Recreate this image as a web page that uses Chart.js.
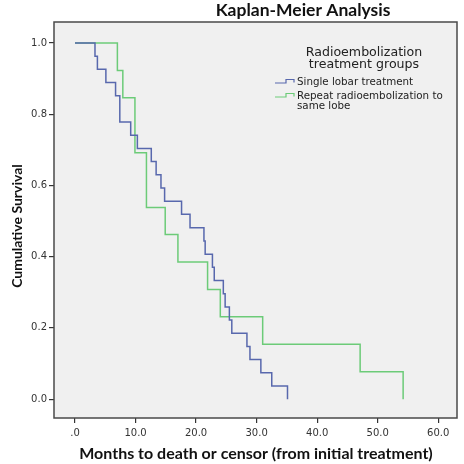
<!DOCTYPE html>
<html>
<head>
<meta charset="utf-8">
<script src="https://cdn.jsdelivr.net/npm/chart.js@4"></script>
<style>
  body { margin: 0; background: #fff; }
  #wrap { width: 464px; height: 464px; }
</style>
</head>
<body>
<div id="wrap"><canvas id="kmChart" width="464" height="464"></canvas></div>
<script>
// Kaplan-Meier curves (months, cumulative survival)
const singleTimes = [0, 3.3, 3.7, 5.1, 6.7, 7.4, 9.2, 10.3, 12.6, 13.4, 14.2, 14.8, 17.6, 19.0,
                     21.3, 21.5, 22.7, 23.0, 24.5, 24.8, 25.5, 25.9, 28.4, 28.9, 30.7, 32.5, 35.1];
const singleSurv = [1.0, 0.963, 0.926, 0.889, 0.852, 0.778, 0.741, 0.704, 0.667, 0.630, 0.593, 0.556, 0.519, 0.481,
                    0.444, 0.407, 0.370, 0.333, 0.296, 0.259, 0.222, 0.185, 0.148, 0.111, 0.074, 0.037, 0.0];

const repeatTimes = [0, 7.0, 7.9, 9.9, 11.8, 14.9, 17.0, 21.9, 24.0, 31.0, 47.1, 54.2];
const repeatSurv = [1.0, 0.923, 0.846, 0.692, 0.538, 0.462, 0.385, 0.308, 0.231, 0.154, 0.077, 0.0];

const seriesNames = ['Single lobar treatment', 'Repeat radioembolization to same lobe'];
const xTickValues = [0, 10, 20, 30, 40, 50, 60];
const yTickValues = [0, 0.2, 0.4, 0.6, 0.8, 1.0];

const chartTitle = 'Kaplan-Meier Analysis';
const xTitle = 'Months to death or censor (from initial treatment)';
const yTitle = 'Cumulative Survival';
const legendTitle = ['Radioembolization', 'treatment groups'];

const blue = '#5868ad';
const green = '#6ccb78';

function toPoints(times, surv) {
    return times.map((t, i) => ({ x: t, y: surv[i] }));
}

// plot background, frame, title and the SPSS style legend
const decorations = {
    id: 'decorations',
    beforeDatasetsDraw(chart) {
        const { ctx, chartArea: a } = chart;
        ctx.save();
        ctx.fillStyle = '#f0f0f0';
        ctx.fillRect(a.left, a.top, a.right - a.left, a.bottom - a.top);
        ctx.restore();
    },
    afterDraw(chart) {
        const { ctx, chartArea: a } = chart;
        ctx.save();
        ctx.strokeStyle = '#4a4a4a';
        ctx.lineWidth = 1.5;
        ctx.strokeRect(a.left, a.top, a.right - a.left, a.bottom - a.top);

        ctx.fillStyle = '#111';
        ctx.textAlign = 'center';
        ctx.textBaseline = 'alphabetic';
        ctx.font = 'bold 17.5px Lato';
        ctx.fillText(chartTitle, 303, 16);

        ctx.font = 'bold 16px Lato';
        ctx.fillText(xTitle, 256, 459);

        ctx.save();
        ctx.font = 'bold 14px Lato';
        ctx.translate(22, 226);
        ctx.rotate(-Math.PI / 2);
        ctx.fillText(yTitle, 0, 0);
        ctx.restore();

        // legend
        ctx.fillStyle = '#222';
        ctx.font = '12.6px "DejaVu Sans"';
        ctx.fillText(legendTitle[0], 364, 56);
        ctx.fillText(legendTitle[1], 364, 68);

        ctx.textAlign = 'left';
        ctx.font = '10.3px "DejaVu Sans"';
        const items = [
            { color: blue, y: 83, lines: [seriesNames[0]] },
            { color: green, y: 97, lines: ['Repeat radioembolization to', 'same lobe'] }
        ];
        items.forEach(it => {
            ctx.strokeStyle = it.color;
            ctx.lineWidth = 1.2;
            ctx.beginPath();
            ctx.moveTo(275, it.y);
            ctx.lineTo(286, it.y);
            ctx.lineTo(286, it.y - 3.5);
            ctx.lineTo(294, it.y - 3.5);
            ctx.lineTo(294, it.y - 0.5);
            ctx.stroke();
            it.lines.forEach((ln, k) => ctx.fillText(ln, 297, it.y + 2 + k * 10));
        });
        ctx.restore();
    }
};

const ctx = document.getElementById('kmChart').getContext('2d');
new Chart(ctx, {
    type: 'line',
    data: {
        datasets: [
            {
                label: seriesNames[0],
                data: toPoints(singleTimes, singleSurv),
                borderColor: blue,
                borderWidth: 1.5,
                stepped: true,
                pointRadius: 0,
                fill: false
            },
            {
                label: seriesNames[1],
                data: toPoints(repeatTimes, repeatSurv),
                borderColor: green,
                borderWidth: 1.5,
                stepped: true,
                pointRadius: 0,
                fill: false
            }
        ]
    },
    options: {
        responsive: false,
        animation: false,
        layout: { padding: { top: 22, right: 7, left: 0, bottom: 0 } },
        plugins: {
            legend: { display: false },
            tooltip: { enabled: false }
        },
        scales: {
            x: {
                type: 'linear',
                min: -3.47,
                max: 63.1,
                afterBuildTicks: scale => { scale.ticks = xTickValues.map(v => ({ value: v })); },
                afterFit: scale => { scale.height = 46; },
                border: { display: false },
                grid: { drawOnChartArea: false, drawTicks: true, tickLength: 5, tickColor: '#333', lineWidth: 1.2 },
                ticks: {
                    padding: 4,
                    color: '#333',
                    maxRotation: 0,
                    font: { family: 'DejaVu Sans', size: 10 },
                    callback: v => v === 0 ? '.0' : v.toFixed(1)
                }
            },
            y: {
                type: 'linear',
                min: -0.053,
                max: 1.059,
                afterBuildTicks: scale => { scale.ticks = yTickValues.map(v => ({ value: v })); },
                afterFit: scale => { scale.width = 54; },
                border: { display: false },
                grid: { drawOnChartArea: false, drawTicks: true, tickLength: 5, tickColor: '#333', lineWidth: 1.2 },
                ticks: {
                    padding: 2,
                    color: '#333',
                    font: { family: 'DejaVu Sans', size: 10 },
                    callback: v => v.toFixed(1)
                }
            }
        }
    },
    plugins: [decorations]
});
</script>
</body>
</html>
